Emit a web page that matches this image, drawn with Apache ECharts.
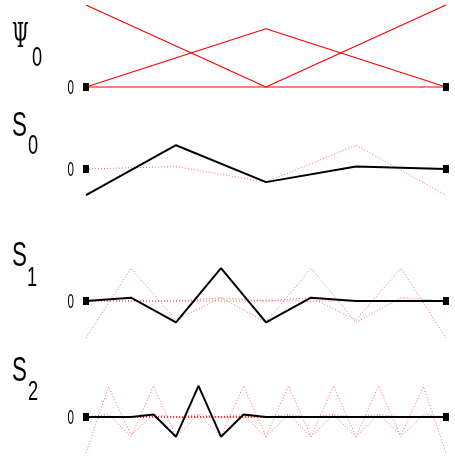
<!DOCTYPE html>
<html>
<head>
<meta charset="utf-8">
<script src="https://cdn.jsdelivr.net/npm/echarts@6/dist/echarts.min.js"></script>
<style>
  html, body { margin: 0; padding: 0; background: #fff; }
  #chart { width: 455px; height: 462px; }
</style>
</head>
<body>
<div id="chart"></div>
<script>
// panel titles
const mainLabels = ['Ψ', 'S', 'S', 'S'];
const subLabels = ['0', '0', '1', '2'];

// Psi_0 : hat functions on 3 nodes
const psiX = [0, 0.5, 1];
const psiLeft = [1, 0, 0];
const psiMid = [0, 0.71, 0];
const psiRight = [0, 0, 1];

// S_0 : 5 nodes
const s0X = [0, 0.25, 0.5, 0.75, 1];
const s0Black = [-0.32, 0.29, -0.16, 0.03, 0];
const s0Red = [0, 0.03, -0.16, 0.29, -0.32];

// S_1 : 9 nodes
const s1X = [0, 0.125, 0.25, 0.375, 0.5, 0.625, 0.75, 0.875, 1];
const s1Black = [0, 0.04, -0.26, 0.40, -0.26, 0.04, 0, 0, 0];
const s1Red = [
  [-0.45, 0.40, -0.23, 0.04, 0, 0, 0, 0, 0],
  [0, 0, 0, 0.04, -0.26, 0.40, -0.26, 0.04, 0],
  [0, 0, 0, 0, 0, 0.04, -0.23, 0.40, -0.45]
];

// S_2 : 17 nodes
const s2X = [0, 0.0625, 0.125, 0.1875, 0.25, 0.3125, 0.375, 0.4375, 0.5,
  0.5625, 0.625, 0.6875, 0.75, 0.8125, 0.875, 0.9375, 1];
const s2Black = [0, 0, 0, 0.03, -0.24, 0.38, -0.24, 0.03, 0, 0, 0, 0, 0, 0, 0, 0, 0];
const s2Red = [
  [-0.44, 0.37, -0.22, 0.03, 0, 0, 0, 0, 0, 0, 0, 0, 0, 0, 0, 0, 0],
  [0, 0.03, -0.24, 0.38, -0.24, 0.03, 0, 0, 0, 0, 0, 0, 0, 0, 0, 0, 0],
  [0, 0, 0, 0, 0, 0.03, -0.24, 0.38, -0.24, 0.03, 0, 0, 0, 0, 0, 0, 0],
  [0, 0, 0, 0, 0, 0, 0, 0.03, -0.24, 0.38, -0.24, 0.03, 0, 0, 0, 0, 0],
  [0, 0, 0, 0, 0, 0, 0, 0, 0, 0.03, -0.24, 0.38, -0.24, 0.03, 0, 0, 0],
  [0, 0, 0, 0, 0, 0, 0, 0, 0, 0, 0, 0.03, -0.24, 0.38, -0.24, 0.03, 0],
  [0, 0, 0, 0, 0, 0, 0, 0, 0, 0, 0, 0, 0, 0.03, -0.22, 0.37, -0.44]
];

const zip = (xs, ys) => xs.map((x, i) => [x, ys[i]]);

// panel layout (82 px per unit in every panel)
const panels = [
  { top: 0.9, height: 102.5, min: -0.2, max: 1.05 },
  { top: 128, height: 82, min: -0.5, max: 0.5 },
  { top: 260, height: 82, min: -0.5, max: 0.5 },
  { top: 376, height: 82, min: -0.5, max: 0.5 }
];

const grids = panels.map(p => ({ left: 86, right: 9, top: p.top, height: p.height }));
const xAxes = panels.map((p, i) => ({ type: 'value', gridIndex: i, min: 0, max: 1, show: false }));
const yAxes = panels.map((p, i) => ({ type: 'value', gridIndex: i, min: p.min, max: p.max, show: false }));

const series = [];
const solid = (i, xs, ys, color, width) => series.push({
  type: 'line', xAxisIndex: i, yAxisIndex: i, data: zip(xs, ys),
  showSymbol: false, silent: true, z: 3,
  lineStyle: { color: color, width: width }
});
const dotted = (i, xs, ys) => series.push({
  type: 'line', xAxisIndex: i, yAxisIndex: i, data: zip(xs, ys),
  showSymbol: false, silent: true, z: 2,
  lineStyle: { color: 'rgba(255,0,0,0.6)', width: 1, type: [1, 2] }
});

solid(0, psiX, psiLeft, '#ff0000', 1.2);
solid(0, psiX, psiMid, '#ff0000', 1.2);
solid(0, psiX, psiRight, '#ff0000', 1.2);

dotted(1, s0X, s0Red);
solid(1, s0X, s0Black, '#000', 2);

s1Red.forEach(r => dotted(2, s1X, r));
solid(2, s1X, s1Black, '#000', 2);

s2Red.forEach(r => dotted(3, s2X, r));
solid(3, s2X, s2Black, '#000', 2);

// end markers on the zero line
panels.forEach((p, i) => series.push({
  type: 'scatter', xAxisIndex: i, yAxisIndex: i, data: [[0, 0], [1, 0]],
  symbol: 'rect', symbolSize: [6, 8], silent: true, z: 4,
  itemStyle: { color: '#000', opacity: 1 }
}));

const chart = echarts.init(document.getElementById('chart'));
chart.setOption({
  animation: false,
  grid: grids,
  xAxis: xAxes,
  yAxis: yAxes,
  series: series
});

// title letters and "0" tick labels
const titlePos = [
  { x: 12, y: 38, sx: 32, sy: 58, fam: 'DejaVu Serif', size: 33, scale: 0.58 },
  { x: 12, y: 126, sx: 28, sy: 146, fam: 'Liberation Sans', size: 35, scale: 0.64 },
  { x: 12, y: 256, sx: 27, sy: 278, fam: 'Liberation Sans', size: 35, scale: 0.64 },
  { x: 12, y: 371, sx: 28, sy: 392, fam: 'Liberation Sans', size: 35, scale: 0.64 }
];
const graphic = [];
titlePos.forEach((t, i) => {
  graphic.push({
    type: 'text', x: t.x, y: t.y, scaleX: t.scale,
    style: { text: mainLabels[i], fill: '#000', fontSize: t.size, fontFamily: t.fam, verticalAlign: 'middle', align: 'left' }
  });
  graphic.push({
    type: 'text', x: t.sx, y: t.sy, scaleX: 0.65,
    style: { text: subLabels[i], fill: '#000', fontSize: 28, fontFamily: 'Liberation Sans', verticalAlign: 'middle', align: 'left' }
  });
  const zy = chart.convertToPixel({ gridIndex: i }, [0, 0])[1];
  graphic.push({
    type: 'text', x: 74, y: zy + 1, scaleX: 0.58,
    style: { text: '0', fill: '#000', fontSize: 20, fontFamily: 'Liberation Sans', verticalAlign: 'middle', align: 'right' }
  });
});
chart.setOption({ graphic: graphic });
</script>
</body>
</html>
